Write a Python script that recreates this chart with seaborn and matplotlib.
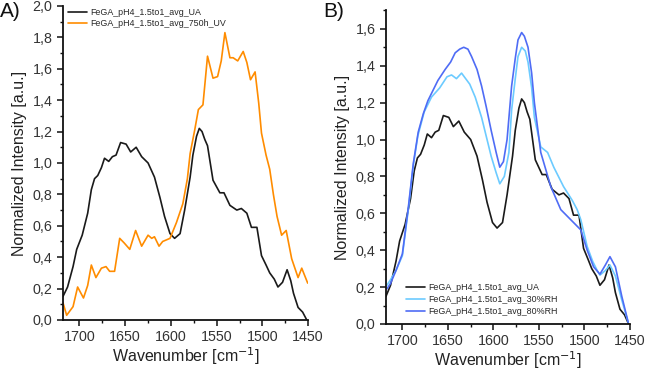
import numpy as np
import pandas as pd
import seaborn as sns
import matplotlib.pyplot as plt
from matplotlib.ticker import MultipleLocator, FuncFormatter

# FeGA_pH4_1.5to1_avg_UA (same curve in both panels)
ua_wn = [1718, 1713, 1707, 1703, 1697, 1691, 1687, 1683.5, 1680, 1676, 1672.6, 1668,
         1664, 1660, 1655, 1649, 1644, 1638, 1632, 1625, 1618, 1612, 1607, 1601,
         1596, 1590, 1585, 1579, 1576, 1572, 1569, 1566, 1563, 1560, 1554, 1546.5,
         1542, 1535.5, 1528, 1523, 1517, 1512, 1506, 1501, 1496, 1492, 1487, 1483,
         1478, 1473, 1469, 1466, 1461, 1456, 1451.5]
ua_val = [0.15, 0.21, 0.34, 0.45, 0.54, 0.68, 0.83, 0.90, 0.92, 0.97, 1.03, 1.01,
          1.04, 1.05, 1.13, 1.12, 1.07, 1.10, 1.04, 1.00, 0.91, 0.78, 0.66, 0.55,
          0.52, 0.55, 0.70, 0.91, 1.05, 1.17, 1.22, 1.20, 1.15, 1.11, 0.89, 0.81,
          0.81, 0.73, 0.70, 0.71, 0.68, 0.59, 0.59, 0.41, 0.35, 0.30, 0.26, 0.21,
          0.24, 0.32, 0.25, 0.17, 0.08, 0.05, 0.0]

# FeGA_pH4_1.5to1_avg_750h_UV
uv_wn = [1718, 1714, 1707, 1702, 1695.6, 1691, 1687, 1682, 1676, 1671, 1667, 1661.6,
         1656, 1651, 1645, 1638.6, 1632, 1625, 1621, 1618, 1613, 1609, 1601, 1594,
         1587, 1582, 1579, 1574, 1570, 1565, 1560, 1554, 1549, 1545, 1541, 1535.5,
         1532, 1527, 1521, 1517, 1513, 1508, 1504, 1501, 1496, 1492, 1488, 1484,
         1479, 1474, 1468, 1461, 1457, 1450.5]
uv_val = [0.11, 0.03, 0.085, 0.21, 0.14, 0.22, 0.35, 0.27, 0.33, 0.34, 0.31, 0.31,
          0.52, 0.49, 0.45, 0.57, 0.47, 0.54, 0.52, 0.53, 0.47, 0.50, 0.52, 0.62,
          0.74, 0.90, 1.06, 1.21, 1.34, 1.37, 1.68, 1.54, 1.55, 1.65, 1.83, 1.67,
          1.67, 1.65, 1.71, 1.64, 1.53, 1.58, 1.38, 1.19, 1.05, 0.96, 0.80, 0.66,
          0.54, 0.57, 0.39, 0.27, 0.33, 0.235]

# FeGA_pH4_1.5to1_avg_30%RH
rh30_wn = [1717, 1713, 1707, 1700, 1693.5, 1688, 1683, 1676, 1668, 1659, 1651, 1646,
           1640.6, 1635, 1626, 1620, 1613, 1608, 1602.5, 1597, 1593, 1588, 1583,
           1580, 1576, 1573, 1569, 1565, 1562, 1558, 1555, 1548, 1540.5, 1533.7,
           1523, 1513.4, 1508, 1504, 1497, 1491, 1486, 1483, 1477, 1472, 1466,
           1459, 1452]
rh30_val = [0.21, 0.24, 0.29, 0.37, 0.62, 0.86, 1.02, 1.15, 1.23, 1.28, 1.34, 1.35,
            1.33, 1.36, 1.30, 1.23, 1.12, 1.02, 0.91, 0.82, 0.76, 0.80, 0.93,
            1.16, 1.33, 1.45, 1.50, 1.48, 1.42, 1.28, 1.12, 0.96, 0.93, 0.85,
            0.745, 0.67, 0.62, 0.565, 0.42, 0.34, 0.29, 0.265, 0.29, 0.32, 0.26,
            0.13, 0.01]

# FeGA_pH4_1.5to1_avg_80%RH
rh80_wn = [1717, 1713, 1707, 1700, 1693.5, 1688, 1682.6, 1677, 1672, 1666, 1661, 1653,
           1647, 1642, 1637, 1632.6, 1628, 1624, 1618, 1613, 1608, 1602.5, 1597,
           1593, 1589, 1585, 1580, 1576, 1573, 1569, 1566, 1562, 1558, 1555, 1548,
           1537, 1526, 1515, 1504, 1497, 1490, 1483, 1477, 1472, 1466, 1459, 1452]
rh80_val = [0.19, 0.22, 0.29, 0.38, 0.63, 0.87, 1.04, 1.14, 1.21, 1.27, 1.32, 1.38,
            1.42, 1.47, 1.49, 1.50, 1.49, 1.45, 1.38, 1.29, 1.18, 1.05, 0.93,
            0.85, 0.88, 1.00, 1.29, 1.44, 1.54, 1.58, 1.56, 1.50, 1.36, 1.20, 0.93,
            0.745, 0.62, 0.565, 0.51, 0.40, 0.31, 0.27, 0.32, 0.365, 0.31, 0.15,
            0.01]

sns.set_theme(style="ticks")
plt.rcParams['font.family'] = ['Liberation Sans', 'DejaVu Sans']

fig = plt.figure(figsize=(6.46, 3.71), dpi=100)
axA = fig.add_axes([0.0975, 0.1375, 0.3795, 0.8465])
axB = fig.add_axes([0.5975, 0.1267, 0.3777, 0.8453])

UA_NAME = 'FeGA_pH4_1.5to1_avg_UA'
sns.lineplot(x=ua_wn, y=ua_val, ax=axA, color='#1a1a1a', lw=1.2, sort=False,
             estimator=None, label=UA_NAME)
sns.lineplot(x=uv_wn, y=uv_val, ax=axA, color='#ff8c00', lw=1.2, sort=False,
             estimator=None, label='FeGA_pH4_1.5to1_avg_750h_UV')

sns.lineplot(x=ua_wn, y=ua_val, ax=axB, color='#1a1a1a', lw=1.2, sort=False,
             estimator=None, label=UA_NAME)
sns.lineplot(x=rh30_wn, y=rh30_val, ax=axB, color='#6ccbff', lw=1.2, sort=False,
             estimator=None, label='FeGA_pH4_1.5to1_avg_30%RH')
sns.lineplot(x=rh80_wn, y=rh80_val, ax=axB, color='#4f6cf5', lw=1.2, sort=False,
             estimator=None, label='FeGA_pH4_1.5to1_avg_80%RH')

comma = FuncFormatter(lambda v, p: f'{v:.1f}'.replace('.', ','))
for ax, ytop in ((axA, 2.0), (axB, 1.7)):
    ax.set_xlim(1718, 1450)
    ax.set_ylim(0, ytop)
    ax.xaxis.set_major_locator(MultipleLocator(50))
    ax.xaxis.set_minor_locator(MultipleLocator(25))
    ax.yaxis.set_major_locator(MultipleLocator(0.2))
    ax.yaxis.set_minor_locator(MultipleLocator(0.1))
    ax.yaxis.set_major_formatter(comma)
    sns.despine(ax=ax)
    for s in ('left', 'bottom'):
        ax.spines[s].set_linewidth(1.3)
        ax.spines[s].set_color('#111111')
    ax.tick_params(which='major', direction='out', length=4, width=1.1,
                   labelsize=10.3, labelcolor='#333333', color='#111111')
    ax.tick_params(which='minor', direction='out', length=2.5, width=1,
                   color='#111111')
    ax.set_xlabel('Wavenumber [cm$^{-1}$]', fontsize=11.5, color='#222222',
                  labelpad=1)
    ax.set_ylabel('Normalized Intensity [a.u.]', fontsize=11.5, color='#222222',
                  labelpad=4)

axA.legend(loc='upper left', bbox_to_anchor=(0.0, 1.01), frameon=False,
           fontsize=6.4, handlelength=2.1, handletextpad=0.4, labelspacing=0.25,
           borderaxespad=0.2)
axB.legend(loc='lower left', bbox_to_anchor=(0.05, 0.0), frameon=False,
           fontsize=6.4, handlelength=2.1, handletextpad=0.4, labelspacing=0.35)

fig.text(0.0, 0.955, 'A)', fontsize=15, color='#111111')
fig.text(0.5, 0.955, 'B)', fontsize=15, color='#111111')

fig.savefig('out.png', dpi=100)
